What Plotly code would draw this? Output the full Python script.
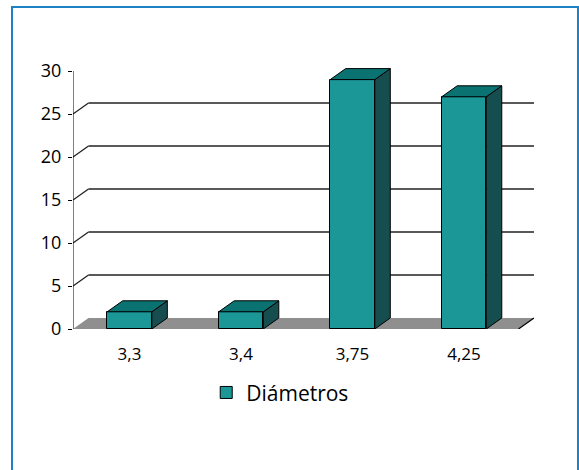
import plotly.graph_objects as go

# Data
categories = ["3,3", "3,4", "3,75", "4,25"]
diametros = [2, 2, 29, 27]
y_ticks = [0, 5, 10, 15, 20, 25, 30]

# 3D styling parameters (data units)
BAR_W = 0.40
DX = 0.139      # depth shift along x
DY = 1.28       # depth shift along y
X_MIN, X_MAX = -0.507, 3.628
Y_TOP = 31.28

FRONT = "#1b9797"
TOP = "#0b7272"
SIDE = "#164e50"
FONT = "Open Sans"

xs = list(range(len(categories)))

fig = go.Figure()

# Front faces of the columns
fig.add_trace(go.Bar(
    x=xs, y=diametros, width=BAR_W, name="Diámetros",
    marker=dict(color=FRONT, line=dict(color="black", width=1)),
    hoverinfo="skip",
))

# Top and side faces built from the same values
top_x, top_y, side_x, side_y = [], [], [], []
for c, v in zip(xs, diametros):
    l, r = c - BAR_W / 2, c + BAR_W / 2
    top_x += [l, r, r + DX, l + DX, l, None]
    top_y += [v, v, v + DY, v + DY, v, None]
    side_x += [r, r + DX, r + DX, r, r, None]
    side_y += [0, DY, v + DY, v, 0, None]

fig.add_trace(go.Scatter(
    x=side_x, y=side_y, mode="lines", fill="toself", fillcolor=SIDE,
    line=dict(color="black", width=1), showlegend=False, hoverinfo="skip",
))
fig.add_trace(go.Scatter(
    x=top_x, y=top_y, mode="lines", fill="toself", fillcolor=TOP,
    line=dict(color="black", width=1), showlegend=False, hoverinfo="skip",
))

shapes = []
# Floor
shapes.append(dict(
    type="path", xref="x", yref="y", layer="below",
    path=f"M {X_MIN},0 L {X_MAX - DX},0 L {X_MAX},{DY} L {X_MIN + DX},{DY} Z",
    fillcolor="#8f8f8f", line=dict(width=0),
))
shapes.append(dict(
    type="line", xref="x", yref="y", x0=X_MAX - DX, y0=0, x1=X_MAX, y1=DY,
    line=dict(color="black", width=1.2),
))
# Back-wall gridlines with their diagonal connectors
for v in y_ticks[1:-1]:
    shapes.append(dict(
        type="line", xref="x", yref="y", layer="below",
        x0=X_MIN, y0=v, x1=X_MIN + DX, y1=v + DY,
        line=dict(color="#222222", width=1.3),
    ))
    shapes.append(dict(
        type="line", xref="x", yref="y", layer="below",
        x0=X_MIN + DX, y0=v + DY, x1=X_MAX, y1=v + DY,
        line=dict(color="#222222", width=1.6),
    ))
# Value axis line
shapes.append(dict(
    type="line", xref="x", yref="y", x0=X_MIN, y0=0, x1=X_MIN, y1=30,
    line=dict(color="black", width=1),
))
# Outer frame
shapes.append(dict(
    type="rect", xref="paper", yref="paper",
    x0=-0.1323, x1=1.0954, y0=-0.6, y1=1.197,
    line=dict(color="#1b82c4", width=2), fillcolor="rgba(0,0,0,0)",
))

fig.update_layout(
    width=579, height=470,
    margin=dict(l=73, r=45, t=60, b=141),
    paper_bgcolor="white", plot_bgcolor="white",
    font=dict(family=FONT, color="black", size=17),
    shapes=shapes,
    showlegend=True,
    legend=dict(
        orientation="h", x=0.289, y=-0.161, xanchor="left", yanchor="top",
        font=dict(size=21, family=FONT, color="black"),
        bgcolor="rgba(0,0,0,0)",
    ),
    xaxis=dict(
        range=[X_MIN, X_MAX], tickmode="array", tickvals=xs, ticktext=categories,
        showgrid=False, zeroline=False, showline=False, ticks="",
        ticklabelstandoff=13, tickfont=dict(size=17), fixedrange=True,
    ),
    yaxis=dict(
        range=[0, Y_TOP], tickmode="array", tickvals=y_ticks,
        showgrid=False, zeroline=False, showline=False,
        ticks="outside", ticklen=4, tickcolor="black", tickwidth=1,
        ticklabelstandoff=3, tickfont=dict(size=18), fixedrange=True,
    ),
    bargap=0,
)

fig.write_html("out.html")
